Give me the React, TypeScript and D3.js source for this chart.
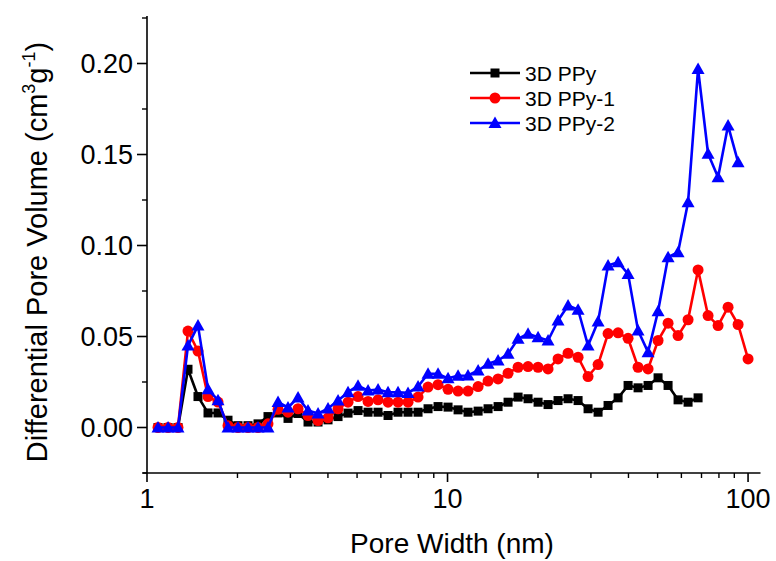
import React from "react";
import * as d3 from "d3";

const poreWidths = [1.088, 1.175, 1.268, 1.369, 1.478, 1.596, 1.723, 1.86, 2.008, 2.168, 2.341, 2.527, 2.729, 2.946, 3.181, 3.434, 3.708, 4.003, 4.322, 4.666, 5.037, 5.439, 5.872, 6.339, 6.844, 7.389, 7.978, 8.613, 9.299, 10.04, 10.84, 11.7, 12.64, 13.64, 14.73, 15.9, 17.17, 18.53, 20.01, 21.6, 23.32, 25.18, 27.19, 29.35, 31.69, 34.21, 36.94, 39.88, 43.05, 46.48, 50.18, 54.18, 58.49, 63.15, 68.18, 73.61, 79.47, 85.8, 92.64, 100.0];

const ppy = [0, 0, 0, 0.032, 0.017, 0.008, 0.008, 0.004, 0.001, 0.001, 0.002, 0.006, 0.008, 0.005, 0.0077, 0.003, 0.003, 0.0042, 0.006, 0.0079, 0.0093, 0.0084, 0.0084, 0.0066, 0.0084, 0.0084, 0.0084, 0.0103, 0.0115, 0.0112, 0.0097, 0.0084, 0.009, 0.0103, 0.0115, 0.0139, 0.0167, 0.0158, 0.0139, 0.0126, 0.0148, 0.0158, 0.0148, 0.0103, 0.0084, 0.0121, 0.0163, 0.0231, 0.0218, 0.0231, 0.0273, 0.0231, 0.0152, 0.0139, 0.0163];

const ppy1 = [0, 0, 0, 0.053, 0.042, 0.017, 0.014, 0.001, 0, 0, 0, 0.002, 0.01, 0.0084, 0.0103, 0.0066, 0.0038, 0.0053, 0.0103, 0.0139, 0.017, 0.0143, 0.0152, 0.0139, 0.0139, 0.0139, 0.0167, 0.0222, 0.0235, 0.021, 0.02, 0.02, 0.0225, 0.0255, 0.0267, 0.0298, 0.0331, 0.0335, 0.0331, 0.0322, 0.0377, 0.0408, 0.0386, 0.028, 0.0346, 0.0516, 0.052, 0.049, 0.0331, 0.0322, 0.0478, 0.0573, 0.0505, 0.0592, 0.0866, 0.0615, 0.056, 0.0661, 0.0566, 0.0377];

const ppy2 = [0, 0, 0, 0.045, 0.056, 0.021, 0.015, 0, 0, 0, 0, 0, 0.014, 0.011, 0.0165, 0.0093, 0.0077, 0.0104, 0.0148, 0.0194, 0.023, 0.0203, 0.0209, 0.0194, 0.0194, 0.019, 0.0225, 0.0295, 0.0295, 0.027, 0.0284, 0.0286, 0.0313, 0.035, 0.0368, 0.0405, 0.0487, 0.0515, 0.0496, 0.0478, 0.0588, 0.067, 0.0647, 0.045, 0.0583, 0.089, 0.0908, 0.0844, 0.0533, 0.0414, 0.0639, 0.0936, 0.0963, 0.1238, 0.197, 0.1504, 0.1375, 0.1659, 0.1458];

const seriesNames = ["3D PPy", "3D PPy-1", "3D PPy-2"];
const seriesColors = ["#000000", "#ff0000", "#0000ff"];
const seriesValues = [ppy, ppy1, ppy2];
const seriesShapes = ["square", "circle", "triangle"];

const yTicks = [0, 0.05, 0.1, 0.15, 0.2];
const yMinorTicks = [-0.025, 0.025, 0.075, 0.125, 0.175, 0.225];
const xTicks = [1, 10, 100];
const xMinorTicks = [2, 3, 4, 5, 6, 7, 8, 9, 20, 30, 40, 50, 60, 70, 80, 90];

const W = 776;
const H = 561;
const FONT = "'Liberation Sans', Arial, sans-serif";

function Marker({ shape, cx, cy, color }: { shape: string; cx: number; cy: number; color: string }) {
  if (shape === "square") {
    return <rect x={cx - 4.5} y={cy - 4.5} width={9} height={9} fill={color} />;
  }
  if (shape === "circle") {
    return <circle cx={cx} cy={cy} r={5.5} fill={color} />;
  }
  return (
    <path
      d={`M${cx},${cy - 6.5}L${cx + 6.5},${cy + 5}L${cx - 6.5},${cy + 5}Z`}
      fill={color}
    />
  );
}

export default function App() {
  const x = d3.scaleLog().domain([1, 110]).range([147, 760.5]);
  const y = d3.scaleLinear().domain([-0.025, 0.225]).range([473, 18]);
  const line = d3
    .line<[number, number]>()
    .x((d) => x(d[0]))
    .y((d) => y(d[1]));

  const x0 = x.range()[0];
  const x1 = x.range()[1];
  const y0 = y.range()[0];
  const y1 = y.range()[1];

  return (
    <svg
      width={W}
      height={H}
      style={{ position: "absolute", left: 0, top: 0, background: "#fff" }}
      fontFamily={FONT}
    >
      <rect width={W} height={H} fill="#fff" />
      {/* axes */}
      <line x1={x0} x2={x0} y1={y1 - 2} y2={y0} stroke="#000" strokeWidth={1.6} />
      <line x1={x0 - 4} x2={x1} y1={y0} y2={y0} stroke="#000" strokeWidth={1.6} />
      {yTicks.map((t) => (
        <g key={"yt" + t}>
          <line x1={x0 - 10} x2={x0} y1={y(t)} y2={y(t)} stroke="#000" strokeWidth={1.6} />
          <text
            x={x0 - 14}
            y={y(t)}
            textAnchor="end"
            dominantBaseline="central"
            fontSize={27}
          >
            {d3.format(".2f")(t)}
          </text>
        </g>
      ))}
      {yMinorTicks.map((t) => (
        <line key={"ym" + t} x1={x0 - 5} x2={x0} y1={y(t)} y2={y(t)} stroke="#000" strokeWidth={1.4} />
      ))}
      {xTicks.map((t) => (
        <g key={"xt" + t}>
          <line x1={x(t)} x2={x(t)} y1={y0} y2={y0 + 9} stroke="#000" strokeWidth={1.6} />
          <text x={x(t)} y={508} textAnchor="middle" fontSize={27}>
            {t}
          </text>
        </g>
      ))}
      {xMinorTicks.map((t) => (
        <line key={"xm" + t} x1={x(t)} x2={x(t)} y1={y0} y2={y0 + 5} stroke="#000" strokeWidth={1.4} />
      ))}
      {/* axis titles */}
      <text x={452} y={553} textAnchor="middle" fontSize={28}>
        Pore Width (nm)
      </text>
      <text
        transform="translate(47,252) rotate(-90)"
        textAnchor="middle"
        fontSize={29}
      >
        Differential Pore Volume (cm
        <tspan fontSize={18} dy={-12}>3</tspan>
        <tspan dy={12}>g</tspan>
        <tspan fontSize={18} dy={-12}>-1</tspan>
        <tspan dy={12}>)</tspan>
      </text>
      {/* series */}
      {seriesValues.map((vals, si) => {
        const pts: [number, number][] = vals.map((v, i) => [poreWidths[i], v]);
        return (
          <g key={"s" + si}>
            <path d={line(pts) || ""} fill="none" stroke={seriesColors[si]} strokeWidth={2.6} strokeLinejoin="round" />
            {pts.map((p, i) => (
              <Marker key={i} shape={seriesShapes[si]} cx={x(p[0])} cy={y(p[1])} color={seriesColors[si]} />
            ))}
          </g>
        );
      })}
      {/* legend */}
      {seriesNames.map((name, i) => {
        const ly = 73 + i * 25;
        return (
          <g key={"lg" + i}>
            <line x1={470} x2={520} y1={ly} y2={ly} stroke={seriesColors[i]} strokeWidth={2.6} />
            <Marker shape={seriesShapes[i]} cx={495} cy={ly} color={seriesColors[i]} />
            <text x={525} y={ly} dominantBaseline="central" fontSize={21}>
              {name}
            </text>
          </g>
        );
      })}
    </svg>
  );
}
